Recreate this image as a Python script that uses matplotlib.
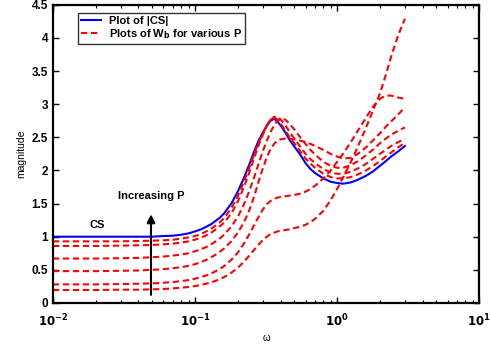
import matplotlib
matplotlib.use("Agg")
import matplotlib.pyplot as plt
import numpy as np

plt.rcParams['font.family'] = ['Liberation Sans', 'DejaVu Sans']
plt.rcParams['font.weight'] = 'bold'

# frequency grid (rad/s) the curves were read on
w = [0.01, 0.02, 0.03, 0.04, 0.05, 0.06, 0.07, 0.08, 0.09, 0.1, 0.11, 0.12, 0.13, 0.14,
     0.15, 0.16, 0.18, 0.2, 0.22, 0.24, 0.26, 0.28, 0.3, 0.32, 0.34, 0.36, 0.38, 0.4,
     0.43, 0.46, 0.5, 0.55, 0.6, 0.65, 0.7, 0.8, 0.9, 1.0, 1.1, 1.25, 1.4, 1.6, 1.8,
     2.0, 2.2, 2.4, 2.7, 3.0]

cs = [1.0, 1.0, 1.0, 1.0, 1.0, 1.01, 1.015, 1.03, 1.05, 1.08, 1.11, 1.15, 1.19, 1.24,
      1.29, 1.35, 1.5, 1.68, 1.88, 2.08, 2.28, 2.45, 2.57, 2.68, 2.75, 2.78, 2.74, 2.68,
      2.58, 2.47, 2.36, 2.24, 2.11, 2.02, 1.96, 1.88, 1.83, 1.81, 1.80, 1.82, 1.86, 1.92, 1.99,
      2.07, 2.14, 2.21, 2.29, 2.37]

# W_b curves, one per value of P
wb1 = [0.93, 0.93, 0.93, 0.935, 0.94, 0.945, 0.955, 0.97, 0.99, 1.01, 1.04, 1.08, 1.12, 1.17,
       1.22, 1.28, 1.43, 1.61, 1.82, 2.03, 2.24, 2.42, 2.56, 2.68, 2.77, 2.80, 2.77, 2.71,
       2.61, 2.51, 2.41, 2.29, 2.18, 2.10, 2.04, 1.95, 1.90, 1.88, 1.88, 1.90, 1.94, 2.0, 2.07,
       2.14, 2.21, 2.27, 2.35, 2.42]
wb2 = [0.86, 0.86, 0.865, 0.87, 0.875, 0.885, 0.895, 0.91, 0.93, 0.955, 0.985, 1.02, 1.06, 1.11,
       1.16, 1.21, 1.35, 1.53, 1.74, 1.96, 2.18, 2.38, 2.54, 2.67, 2.76, 2.81, 2.81, 2.77,
       2.69, 2.59, 2.48, 2.36, 2.25, 2.17, 2.11, 2.02, 1.97, 1.95, 1.95, 1.98, 2.03, 2.10, 2.18,
       2.25, 2.31, 2.37, 2.43, 2.48]
wb3 = [0.67, 0.67, 0.675, 0.68, 0.69, 0.70, 0.715, 0.73, 0.75, 0.78, 0.81, 0.845, 0.885, 0.93,
       0.975, 1.03, 1.15, 1.30, 1.48, 1.68, 1.89, 2.1, 2.29, 2.45, 2.58, 2.68, 2.75, 2.78,
       2.77, 2.71, 2.62, 2.50, 2.40, 2.31, 2.24, 2.13, 2.07, 2.04, 2.04, 2.08, 2.14, 2.23, 2.32,
       2.41, 2.48, 2.54, 2.60, 2.65]
wb4 = [0.48, 0.48, 0.485, 0.49, 0.50, 0.51, 0.525, 0.54, 0.56, 0.585, 0.615, 0.65, 0.69, 0.73,
       0.775, 0.82, 0.93, 1.06, 1.21, 1.39, 1.6, 1.83, 2.03, 2.2, 2.32, 2.4, 2.45, 2.47,
       2.48, 2.48, 2.47, 2.45, 2.43, 2.40, 2.37, 2.31, 2.25, 2.21, 2.18, 2.19, 2.25, 2.35, 2.46,
       2.56, 2.66, 2.74, 2.85, 2.95]
wb5 = [0.28, 0.28, 0.285, 0.29, 0.295, 0.305, 0.315, 0.33, 0.345, 0.365, 0.39, 0.415, 0.445, 0.48,
       0.515, 0.555, 0.65, 0.76, 0.89, 1.03, 1.17, 1.3, 1.41, 1.49, 1.54, 1.57, 1.59, 1.6,
       1.61, 1.62, 1.63, 1.65, 1.68, 1.72, 1.77, 1.88, 2.0, 2.13, 2.25, 2.43, 2.6, 2.8, 2.97,
       3.08, 3.13, 3.13, 3.10, 3.08]
wb6 = [0.195, 0.195, 0.2, 0.2, 0.205, 0.21, 0.22, 0.23, 0.24, 0.255, 0.27, 0.29, 0.31, 0.335,
       0.36, 0.39, 0.455, 0.53, 0.62, 0.71, 0.8, 0.88, 0.95, 1.0, 1.04, 1.06, 1.08, 1.09,
       1.1, 1.11, 1.13, 1.15, 1.18, 1.22, 1.27, 1.39, 1.55, 1.72, 1.89, 2.13, 2.36, 2.65, 2.92,
       3.16, 3.44, 3.72, 4.05, 4.29]

yticks = [0, 0.5, 1, 1.5, 2, 2.5, 3, 3.5, 4, 4.5]
ytick_labels = ['0', '0.5', '1', '1.5', '2', '2.5', '3', '3.5', '4', '4.5']
xticks = [0.01, 0.1, 1, 10]
xtick_labels = [r'$\mathbf{10^{-2}}$', r'$\mathbf{10^{-1}}$', r'$\mathbf{10^{0}}$', r'$\mathbf{10^{1}}$']

fig = plt.figure(figsize=(4.9, 3.47), dpi=100)
ax = fig.add_axes([0.108, 0.127, 0.870, 0.859])

ax.semilogx(w, cs, color='blue', lw=1.5, label='Plot of |CS|')
first = True
for wb in [wb1, wb2, wb3, wb4, wb5, wb6]:
    ax.semilogx(w, wb, color='red', lw=1.5, dashes=(3, 1.8),
                label='Plots of W$_\\mathbf{b}$ for various P' if first else None)
    first = False

ax.set_xlim(0.01, 10)
ax.set_ylim(0, 4.5)
ax.set_yticks(yticks)
ax.set_yticklabels(ytick_labels)
ax.set_xticks(xticks)
ax.set_xticklabels(xtick_labels)
ax.tick_params(which='both', direction='in', top=True, right=True, labelsize=8.5)
ax.tick_params(which='major', length=4, width=1)
ax.tick_params(which='minor', length=2.5, width=0.8)
ax.tick_params(axis='x', pad=7)
for s in ax.spines.values():
    s.set_linewidth(1.6)

ax.set_xlabel('ω', fontsize=7, fontweight='normal', labelpad=3)
ax.set_ylabel('magnitude', fontsize=7.5, labelpad=4)

# annotations
ax.text(0.0205, 1.17, 'CS', fontsize=8, ha='center', va='center')
ax.text(0.049, 1.61, 'Increasing P', fontsize=8, ha='center', va='center')
ax.annotate('', xy=(0.049, 1.38), xytext=(0.049, 0.08),
            arrowprops=dict(arrowstyle='-|>', color='black', lw=1.5, mutation_scale=12))

leg = ax.legend(loc='upper left', bbox_to_anchor=(0.045, 0.993), fontsize=8,
                frameon=True, fancybox=False, handlelength=1.8, borderpad=0.3,
                labelspacing=0.1, handletextpad=0.7)
leg.get_frame().set_edgecolor('black')
leg.get_frame().set_linewidth(1.0)

fig.savefig('out.png', dpi=100)
